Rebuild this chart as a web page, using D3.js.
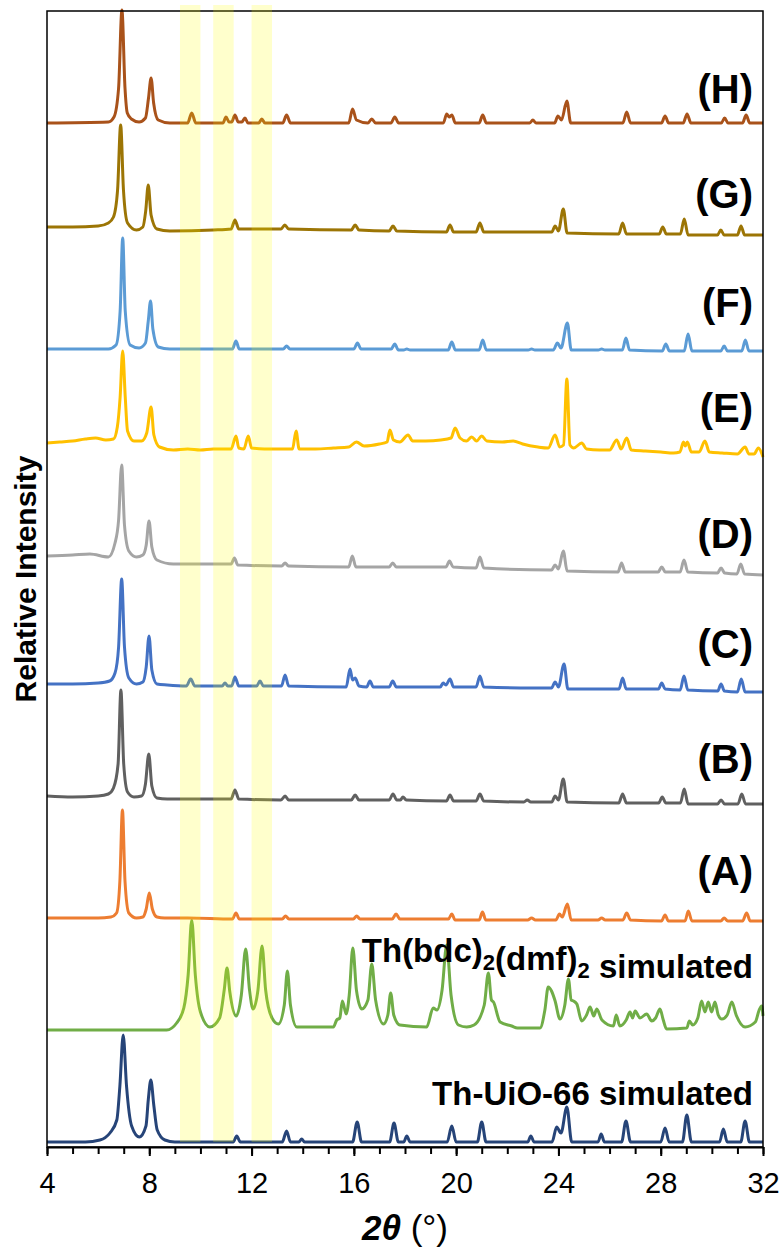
<!DOCTYPE html>
<html>
<head>
<meta charset="utf-8">
<script src="https://cdn.jsdelivr.net/npm/d3@7"></script>
<style>
  body { margin: 0; background: #fff; }
  svg { display: block; }
  text { font-family: "Liberation Sans", Arial, sans-serif; fill: #000; }
</style>
</head>
<body>
<div id="chart"></div>
<script>
// x axis ticks
const tickLabels = [4, 8, 12, 16, 20, 24, 28, 32];
const minorTicks = [4,5,6,7,8,9,10,11,12,13,14,15,16,17,18,19,20,21,22,23,24,25,26,27,28,29,30,31,32];

// highlighted 2theta ranges
const highlightBands = [[9.2, 10.0], [10.5, 11.3], [12.0, 12.8]];

// names of the patterns, bottom to top
const patternNames = ["Th-UiO-66 simulated", "Th(bdc)2(dmf)2 simulated",
  "(A)", "(B)", "(C)", "(D)", "(E)", "(F)", "(G)", "(H)"];

// vertical stacking offset of each pattern (relative intensity units)
const offsets = [5, 117, 226, 343, 455, 572, 690, 796, 912, 1024];

// [2theta, intensity]
const thUio66Sim = [[4,0],[5.5,0],[6.07,2],[6.46,9],[6.73,22],[6.85,56],[6.98,107],[7.11,56],[7.31,16],[7.61,5],[7.87,16],[7.96,42],[8.06,62],[8.18,36],[8.31,12],[8.61,2],[9,0],
  [11.28,0],[11.42,6],[11.56,0],[13.2,0],[13.37,11],[13.52,0],[13.85,0],[13.96,3],[14.07,0],
  [15.95,0],[16.13,20],[16.3,0],[17.4,0],[17.57,19],[17.74,0],[17.95,0],[18.07,6],[18.2,0],
  [19.65,0],[19.83,16],[20.0,0],[20.83,0],[21.0,20],[21.17,0],[22.8,0],[22.92,6],[23.05,0],
  [23.75,0],[23.93,15],[24.1,9],[24.33,35],[24.52,0],[25.55,0],[25.67,8],[25.8,0],
  [26.47,0],[26.64,21],[26.82,0],[28.0,0],[28.17,14],[28.33,0],[28.85,0],[29.02,27],[29.2,0],
  [30.3,0],[30.45,13],[30.6,0],[31.13,0],[31.3,21],[31.47,0],[32,0]];

const thBdcSim = [[4,0],[8.68,0],[9.07,7],[9.35,22],[9.52,55],[9.66,110],[9.8,55],[10.0,18],[10.37,3],[10.75,12],[10.93,40],[11.04,62],[11.15,38],[11.4,14],[11.6,35],[11.77,81],[11.92,40],[12.06,21],[12.25,40],[12.41,84],[12.55,40],[12.8,12],[13.05,6],[13.28,25],[13.4,59],[13.52,25],[13.77,3],
  [15.2,3],[15.33,10],[15.45,12],[15.55,29],[15.7,16],[15.82,35],[15.96,82],[16.1,40],[16.31,21],[16.55,30],[16.7,66],[16.85,30],[17.16,6],[17.33,15],[17.44,37],[17.56,15],[17.8,5],
  [18.85,3],[19.1,22],[19.25,20],[19.45,40],[19.63,85],[19.8,35],[20.09,5],[20.41,3],[20.7,5],[21.1,25],[21.26,57],[21.38,30],[21.46,28],[21.72,8],[22.17,4],[22.4,2],
  [23.28,2],[23.47,20],[23.6,43],[23.73,39],[23.87,29],[24.06,11],[24.25,25],[24.39,51],[24.5,30],[24.59,29],[24.72,26],[24.91,9],[25.1,15],[25.24,23],[25.38,14],[25.5,21],[25.7,10],
  [26.15,4],[26.26,15],[26.4,4],[26.65,10],[26.8,18],[26.9,12],[27.0,19],[27.19,12],[27.45,16],[27.65,9],[27.8,12],[27.97,21],[28.1,10],[28.23,1],
  [29.02,2],[29.12,9],[29.25,5],[29.45,12],[29.6,29],[29.73,18],[29.86,28],[29.99,18],[30.12,28],[30.25,15],[30.39,11],[30.6,15],[30.78,28],[30.95,15],[31.3,3],[31.7,8],[31.85,20],[31.95,24],[32,14]];

const sampleA = [[4,3],[5,3],[6,3],[6.5,4],[6.72,8],[6.85,40],[6.95,111],[7.05,40],[7.2,8],[7.5,3],[7.75,4],[7.88,12],[8.0,28],[8.12,12],[8.3,4],[8.6,3],[9.5,3],
  [11.25,2],[11.39,8],[11.52,2],[13.2,2],[13.33,5],[13.46,2],[15.98,2],[16.11,5],[16.24,2],[17.5,2],[17.65,7],[17.8,2],
  [19.7,2],[19.83,7],[19.96,1],[20.9,1],[21.03,9],[21.16,1],[22.8,1],[22.95,3],[23.1,1],[23.9,1],[24.04,7],[24.15,4],[24.35,17],[24.5,1],
  [25.55,1],[25.69,3],[25.83,1],[26.52,1],[26.67,8],[26.82,1],[28.03,0],[28.17,6],[28.3,0],[28.95,0],[29.08,10],[29.22,0],
  [30.35,0],[30.48,3],[30.62,0],[31.2,0],[31.36,8],[31.5,0],[32,0]];

const sampleB = [[4,8],[5,7],[6,8],[6.4,10],[6.6,16],[6.78,40],[6.89,114],[7.0,40],[7.15,12],[7.4,7],[7.7,8],[7.85,20],[7.98,50],[8.1,18],[8.3,6],[8.7,5],[10,5],
  [11.2,5],[11.35,14],[11.5,5],[13.15,4],[13.31,8],[13.45,4],[15.9,4],[16.05,9],[16.2,4],[17.38,4],[17.53,10],[17.68,4],[17.82,4],[17.92,7],[18.05,4],
  [19.62,3],[19.76,9],[19.9,3],[20.78,3],[20.93,10],[21.08,3],[22.65,2],[22.78,4],[22.92,2],[23.74,2],[23.87,8],[24.0,4],[24.19,25],[24.34,2],
  [26.36,1],[26.51,10],[26.66,1],[27.92,1],[28.06,7],[28.2,1],[28.77,1],[28.92,15],[29.07,0],[30.22,0],[30.36,4],[30.5,0],[31.02,0],[31.17,10],[31.32,0],[32,0]];

const sampleC = [[4,8],[5,8],[6,9],[6.45,11],[6.66,19],[6.8,45],[6.92,113],[7.03,45],[7.2,14],[7.5,8],[7.75,10],[7.88,25],[7.99,56],[8.1,22],[8.3,8],[8.7,7],
  [9.45,6],[9.62,13],[9.78,6],[10.85,6],[10.96,9],[11.07,6],[11.22,6],[11.35,15],[11.5,6],[12.2,6],[12.33,11],[12.46,6],[13.17,6],[13.31,17],[13.45,6],
  [15.7,5],[15.85,23],[15.95,12],[16.05,14],[16.2,6],[16.5,5],[16.63,11],[16.76,5],[17.38,5],[17.52,11],[17.66,5],
  [19.38,5],[19.49,9],[19.6,7],[19.76,13],[19.9,5],[20.78,5],[20.93,16],[21.08,5],[23.0,4],[23.73,4],[23.87,10],[24.0,5],[24.22,28],[24.37,3],
  [26.37,3],[26.51,14],[26.65,3],[27.91,3],[28.04,9],[28.17,3],[28.76,2],[28.91,16],[29.06,2],[30.23,1],[30.36,8],[30.49,1],[31.0,0],[31.15,13],[31.3,0],[32,0]];

const sampleD = [[4,19],[5,20],[5.68,21],[6.4,18],[6.66,32],[6.8,55],[6.92,110],[7.03,50],[7.2,24],[7.5,18],[7.75,20],[7.88,30],[7.99,54],[8.1,28],[8.3,15],[8.94,11],[10,11],
  [11.2,11],[11.33,17],[11.46,10],[13.18,9],[13.31,12],[13.44,9],[15.8,8],[15.94,19],[16.08,8],[17.38,8],[17.52,12],[17.66,8],
  [19.6,8],[19.74,14],[19.88,8],[20.78,7],[20.93,18],[21.08,7],[23.73,5],[23.87,10],[24.0,6],[24.19,24],[24.34,4],
  [26.33,3],[26.47,12],[26.61,3],[27.9,3],[28.04,8],[28.18,3],[28.76,3],[28.91,15],[29.06,3],[30.22,2],[30.36,7],[30.5,2],[30.98,1],[31.13,11],[31.28,1],[32,0]];

const sampleE = [[4,14],[4.5,15],[5,16],[5.5,18],[5.9,19],[6.3,17],[6.6,18],[6.75,30],[6.86,60],[6.96,106],[7.06,60],[7.15,26],[7.4,16],[7.7,16],[7.9,24],[8.07,50],[8.18,22],[8.4,10],[8.94,7],
  [9.5,8],[10,7],[10.5,8],[11.2,8],[11.39,21],[11.5,9],[11.7,8],[11.87,21],[12.0,9],[12.5,8],[13.0,8],[13.6,8],[13.74,26],[13.86,8],[14.5,8],[15.2,9],[15.8,10],[16.1,15],[16.4,11],
  [17.0,13],[17.3,15],[17.41,27],[17.55,17],[17.8,15],[18.12,22],[18.3,16],[18.8,16],[19.4,17],[19.8,19],[19.96,29],[20.15,19],[20.4,16],[20.61,20],[20.8,16],[21.0,21],[21.2,16],
  [21.8,15],[22.23,16],[22.6,13],[23.2,10],[23.6,9],[23.87,22],[24.05,10],[24.2,12],[24.33,78],[24.45,12],[24.6,9],[24.91,14],[25.1,8],[25.6,7],[26.0,7],[26.28,17],[26.45,8],[26.67,19],[26.85,7],
  [27.4,6],[28.0,5],[28.5,4],[28.75,5],[28.89,15],[28.96,11],[29.04,15],[29.2,5],[29.5,5],[29.73,16],[29.9,5],[30.4,4],[31.0,3],[31.3,10],[31.45,3],[31.65,3],[31.82,9],[32,0]];

const sampleF = [[4,2],[6.4,2],[6.7,6],[6.86,40],[6.96,113],[7.06,40],[7.25,6],[7.6,3],[7.85,8],[7.96,30],[8.05,50],[8.14,22],[8.35,4],[8.8,2],
  [11.25,2],[11.39,10],[11.52,2],[13.24,2],[13.37,5],[13.5,2],[16.0,2],[16.14,8],[16.28,2],[17.46,2],[17.6,7],[17.74,1],[17.95,1],[18.07,2],[18.2,1],
  [19.69,1],[19.83,9],[19.97,1],[20.9,1],[21.04,11],[21.18,1],[22.82,1],[22.95,2],[23.08,1],[23.8,1],[23.96,8],[24.1,3],[24.35,28],[24.5,1],
  [25.56,1],[25.69,2],[25.82,1],[26.5,1],[26.64,13],[26.78,1],[28.06,0],[28.2,7],[28.34,0],[28.92,0],[29.07,17],[29.22,0],
  [30.35,0],[30.48,5],[30.61,0],[31.17,0],[31.31,11],[31.45,0],[32,0]];

const sampleG = [[4,8],[5,8],[6,9],[6.4,12],[6.6,18],[6.76,45],[6.88,110],[6.99,45],[7.15,12],[7.5,5],[7.75,8],[7.86,24],[7.96,50],[8.07,20],[8.3,6],[8.8,4],[10.5,5],
  [11.2,6],[11.35,15],[11.5,6],[13.15,6],[13.3,10],[13.45,6],[15.9,5],[16.05,10],[16.2,5],[17.38,4],[17.53,9],[17.68,4],
  [19.62,3],[19.76,10],[19.9,3],[20.78,3],[20.93,12],[21.08,3],[23.74,3],[23.87,9],[24.0,4],[24.19,26],[24.34,2],
  [26.36,1],[26.51,12],[26.66,1],[27.94,1],[28.08,8],[28.22,1],[28.77,1],[28.92,16],[29.07,0],[30.22,0],[30.35,5],[30.48,0],[31.0,0],[31.14,9],[31.28,0],[32,0]];

const sampleH = [[4,0],[6.4,1],[6.62,6],[6.8,35],[6.93,113],[7.05,35],[7.14,10],[7.3,4],[7.6,1],[7.85,5],[7.97,25],[8.07,45],[8.17,20],[8.35,3],[8.8,0],
  [9.5,0],[9.66,10],[9.82,0],[10.88,0],[11.0,6],[11.12,1],[11.22,1],[11.35,8],[11.48,1],[11.62,1],[11.74,5],[11.86,0],[12.28,0],[12.4,4],[12.52,0],
  [13.22,0],[13.37,8],[13.52,0],[15.8,0],[15.95,14],[16.1,3],[16.55,0],[16.7,4],[16.85,0],[17.45,0],[17.6,6],[17.75,0],
  [19.5,0],[19.63,9],[19.73,6],[19.83,8],[19.97,0],[20.9,0],[21.04,8],[21.18,0],[22.88,0],[23.0,3],[23.12,0],[23.85,0],[23.98,7],[24.12,3],[24.33,22],[24.48,0],
  [26.52,0],[26.67,11],[26.82,0],[28.03,0],[28.17,7],[28.31,0],[28.88,0],[29.03,9],[29.18,0],[30.37,0],[30.5,5],[30.63,0],[31.2,0],[31.34,8],[31.48,0],[32,0]];

const patterns = [thUio66Sim, thBdcSim, sampleA, sampleB, sampleC, sampleD, sampleE, sampleF, sampleG, sampleH];
const colors = ["#264478", "#70AD47", "#ED7D31", "#606060", "#4472C4", "#A5A5A5", "#FFC000", "#5B9BD5", "#9C7505", "#A9521A"];
// text baselines (px) of the pattern labels
const labelBase = [1105, 962, 885, 773, 658, 548, 422, 317, 208, 103];

let svg = d3.select("#chart").append("svg")
    .attr("width", 783)
    .attr("height", 1251);

let x = d3.scaleLinear().domain([4, 32]).range([47, 763]);
let y = d3.scaleLinear().domain([0, 1136]).range([1147, 11]);

let line = d3.line()
    .x(d => x(d[0]))
    .y(d => y(d[1]))
    .curve(d3.curveMonotoneX);

//draw the patterns, each lifted by its offset
patterns.forEach((p, i) => {
    svg.append("path")
        .datum(p.map(d => [d[0], d[1] + offsets[i]]))
        .attr("d", line)
        .attr("fill", "none")
        .attr("stroke", colors[i])
        .attr("stroke-width", 3)
        .attr("stroke-linejoin", "round");
});

//frame
svg.append("rect")
    .attr("x", x(4))
    .attr("y", y(1136))
    .attr("width", x(32) - x(4))
    .attr("height", y(0) - y(1136))
    .attr("fill", "none")
    .attr("stroke", "#000")
    .attr("stroke-width", 1.5);

//minor ticks
svg.append("g")
    .attr("transform", `translate(0,${y(0)})`)
    .call(d3.axisBottom(x).tickValues(minorTicks).tickSize(7).tickSizeOuter(0).tickFormat(""))
    .call(g => g.selectAll("line").attr("stroke-width", 2));

//major ticks and labels
let xAxis = svg.append("g")
    .attr("transform", `translate(0,${y(0)})`)
    .call(d3.axisBottom(x).tickValues(tickLabels).tickSize(9).tickSizeOuter(0).tickPadding(16).tickFormat(d3.format("d")));
xAxis.select(".domain").attr("stroke-width", 2.2);
xAxis.selectAll("line").attr("stroke-width", 2);
xAxis.selectAll("text")
    .attr("font-size", 29)
    .attr("font-family", "'Liberation Sans', Arial, sans-serif")
    .attr("fill", "#000");

//yellow highlight bands
svg.selectAll(".band")
    .data(highlightBands)
    .enter()
    .append("rect")
    .attr("class", "band")
    .attr("x", d => x(d[0]))
    .attr("width", d => x(d[1]) - x(d[0]))
    .attr("y", 5)
    .attr("height", 1137)
    .attr("fill", "#ffff00")
    .attr("fill-opacity", 0.2);

//sample labels (A)-(H)
patternNames.forEach((name, i) => {
    let t = svg.append("text")
        .attr("x", 753)
        .attr("y", labelBase[i])
        .attr("text-anchor", "end")
        .attr("font-weight", "bold");
    if (i >= 2) {
        t.attr("font-size", 40).text(name);
    } else {
        t.attr("font-size", 33);
        // split on the "2" subscripts
        let parts = name.split(/(\)2)/);
        parts.forEach(part => {
            if (part === ")2") {
                t.append("tspan").text(")");
                t.append("tspan").attr("font-size", 22).attr("dy", 8).text("2");
                t.append("tspan").attr("dy", -8).text("");
            } else {
                t.append("tspan").text(part);
            }
        });
    }
});

//y axis title
svg.append("text")
    .attr("transform", "translate(36,579) rotate(-90)")
    .attr("text-anchor", "middle")
    .attr("font-size", 30)
    .attr("font-weight", "bold")
    .text("Relative Intensity");

//x axis title
let xt = svg.append("text")
    .attr("x", 405)
    .attr("y", 1240)
    .attr("text-anchor", "middle")
    .attr("font-size", 35);
xt.append("tspan").attr("font-weight", "bold").attr("font-style", "italic").text("2θ");
xt.append("tspan").text(" (°)");
</script>
</body>
</html>
